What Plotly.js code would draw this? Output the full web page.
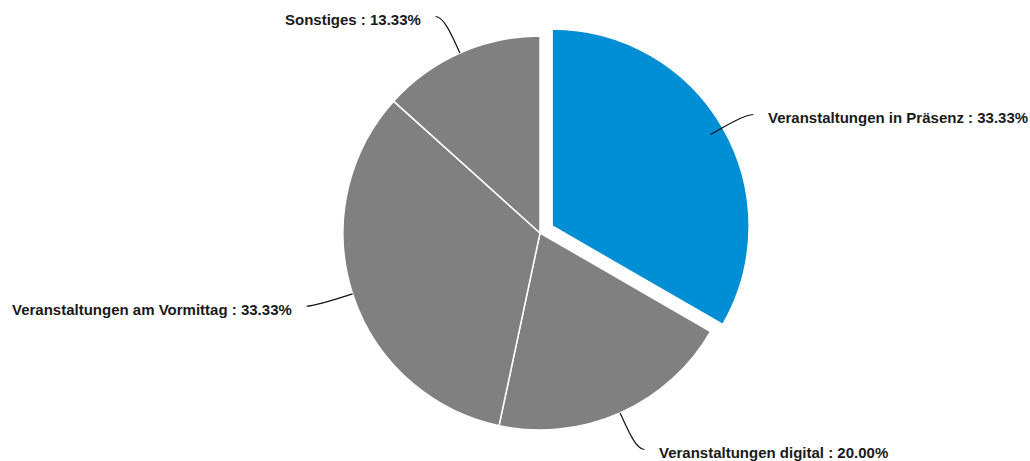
<!DOCTYPE html>
<html>
<head>
<meta charset="utf-8">
<script src="https://cdn.plot.ly/plotly-3.0.1.min.js"></script>
<style>
  html, body { margin: 0; padding: 0; background: #ffffff; }
  #chart { width: 1030px; height: 461px; }
</style>
</head>
<body>
<div id="chart"></div>
<script>
// ---- data ----
var categories = [
  "Veranstaltungen in Präsenz",
  "Veranstaltungen digital",
  "Veranstaltungen am Vormittag",
  "Sonstiges"
];
var counts = [5, 3, 5, 2];
var sliceColors = ["#008fd5", "#808080", "#808080", "#808080"];
var pulls = [0.071, 0, 0, 0];

// ---- layout constants ----
var W = 1030, H = 461;
var M = { l: 50, r: 0, t: 22, b: 17 };
var LEAD_RADIAL = 40;   // px beyond the rim where the leader bends
var LEAD_START = 20;    // px of radial control
var LEAD_HORIZ = 8;     // px horizontal end of leader
var TEXT_GAP = 13;      // px between leader end and text
var TEXT_DY = 3;        // px text shift downward

var trace = {
  type: "pie",
  labels: categories,
  values: counts,
  sort: false,
  direction: "clockwise",
  rotation: 0,
  pull: pulls,
  textinfo: "none",
  hoverinfo: "label+percent",
  marker: { colors: sliceColors, line: { color: "#ffffff", width: 1.5 } },
  showlegend: false
};

var layout = {
  width: W, height: H,
  margin: M,
  paper_bgcolor: "#ffffff",
  plot_bgcolor: "#ffffff",
  showlegend: false,
  font: { family: "Liberation Sans, Arial, sans-serif", color: "#1a1a1a" }
};

var gd = document.getElementById("chart");
Plotly.newPlot(gd, [trace], layout, { displayModeBar: false }).then(function () {
  var cd0 = gd.calcdata[0][0];
  var cx = cd0.cx, cy = cd0.cy, r = cd0.r;
  var pw = W - M.l - M.r, ph = H - M.t - M.b;
  function px2x(px) { return (px - M.l) / pw; }
  function py2y(py) { return 1 - (py - M.t) / ph; }
  function fmt(p) { return px2x(p[0]).toFixed(5) + "," + py2y(p[1]).toFixed(5); }

  var total = counts.reduce(function (a, b) { return a + b; }, 0);
  var cum = 0;
  var shapes = [], annotations = [];
  counts.forEach(function (v, i) {
    var midDeg = (cum + v / 2) / total * 360;
    cum += v;
    var a = midDeg * Math.PI / 180;
    var dx = Math.sin(a), dy = -Math.cos(a);
    var side = dx >= 0 ? 1 : -1;
    var s = [cx + dx * r, cy + dy * r];
    var c1 = [cx + dx * (r + LEAD_START), cy + dy * (r + LEAD_START)];
    var c2 = [cx + dx * (r + LEAD_RADIAL), cy + dy * (r + LEAD_RADIAL)];
    var e = [c2[0] + side * LEAD_HORIZ, c2[1]];
    shapes.push({
      type: "path", xref: "paper", yref: "paper",
      path: "M" + fmt(s) + " C" + fmt(c1) + " " + fmt(c2) + " " + fmt(e),
      line: { color: "#111111", width: 1.2 }
    });
    var pct = (v / total * 100).toFixed(2);
    annotations.push({
      xref: "paper", yref: "paper",
      x: px2x(e[0] + side * TEXT_GAP), y: py2y(e[1] + TEXT_DY),
      xanchor: side > 0 ? "left" : "right", yanchor: "middle",
      showarrow: false,
      text: categories[i] + " : " + pct + "%",
      font: { family: "Liberation Sans, Arial, sans-serif", size: 15, weight: 700, color: "#1a1a1a" }
    });
  });
  return Plotly.relayout(gd, { shapes: shapes, annotations: annotations });
});
</script>
</body>
</html>
